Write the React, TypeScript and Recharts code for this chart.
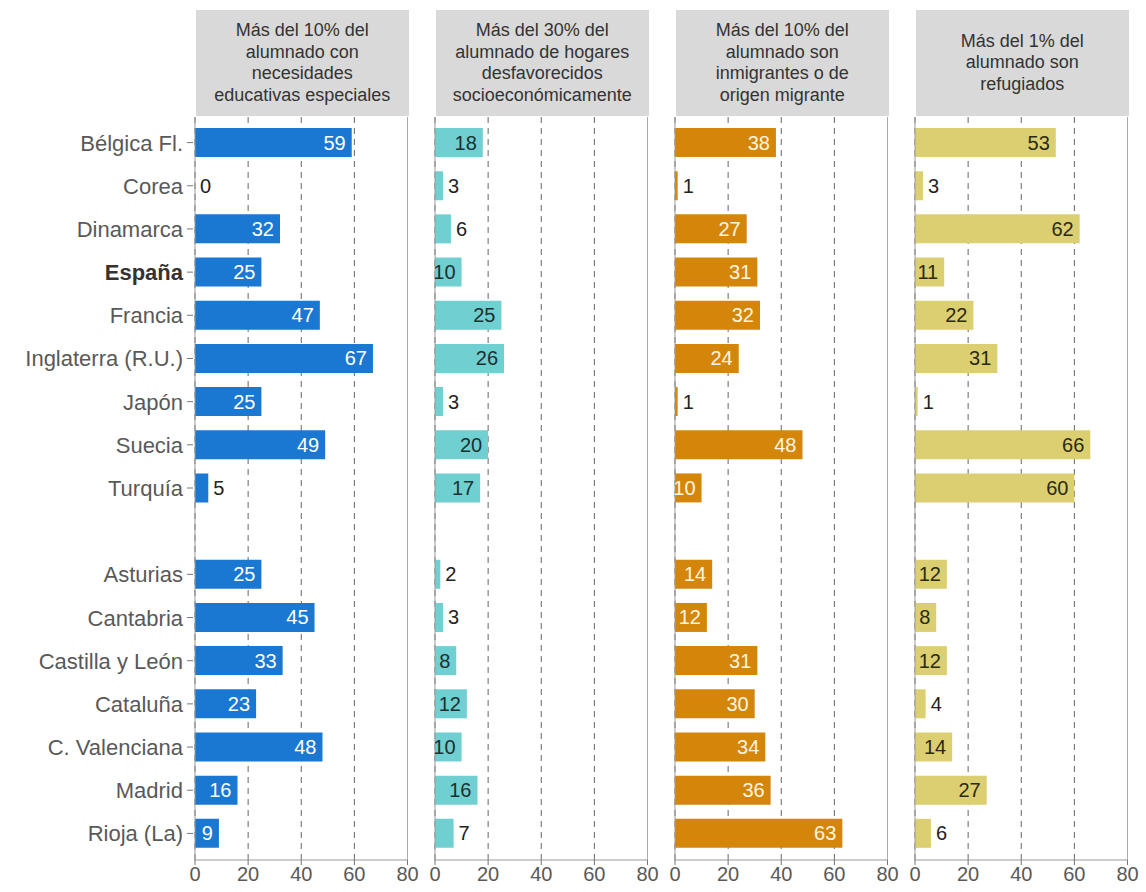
import React from 'react';
import { BarChart, Bar, XAxis, YAxis, CartesianGrid, ReferenceLine, LabelList } from 'recharts';

const categories = [
  'Bélgica Fl.', 'Corea', 'Dinamarca', 'España', 'Francia', 'Inglaterra (R.U.)', 'Japón', 'Suecia', 'Turquía',
  ' ',
  'Asturias', 'Cantabria', 'Castilla y León', 'Cataluña', 'C. Valenciana', 'Madrid', 'Rioja (La)'
];

const necesidades = [59, 0, 32, 25, 47, 67, 25, 49, 5, null, 25, 45, 33, 23, 48, 16, 9];
const desfavorecidos = [18, 3, 6, 10, 25, 26, 3, 20, 17, null, 2, 3, 8, 12, 10, 16, 7];
const inmigrantes = [38, 1, 27, 31, 32, 24, 1, 48, 10, null, 14, 12, 31, 30, 34, 36, 63];
const refugiados = [53, 3, 62, 11, 22, 31, 1, 66, 60, null, 12, 8, 12, 4, 14, 27, 6];

const xTicks = [0, 20, 40, 60, 80];

const panels = [
  { title: ['Más del 10% del', 'alumnado con', 'necesidades', 'educativas especiales'], values: necesidades, color: '#1a78d2', inside: '#ffffff' },
  { title: ['Más del 30% del', 'alumnado de hogares', 'desfavorecidos', 'socioeconómicamente'], values: desfavorecidos, color: '#70cfd0', inside: '#1c3030' },
  { title: ['Más del 10% del', 'alumnado son', 'inmigrantes o de', 'origen migrante'], values: inmigrantes, color: '#d4860a', inside: '#fff6e0' },
  { title: ['Más del 1% del', 'alumnado son', 'refugiados'], values: refugiados, color: '#dccf72', inside: '#2a2a10' }
];

const FONT = 'Arial, "Liberation Sans", sans-serif';
const PLOT_W = 212.5;
const PANEL_STEP = 240;
const FIRST_X = 195;
const TOP = 117;
const HEIGHT = 892;
const BOTTOM_MARGIN = 2;
const X_AXIS_H = 30;

const YTick = (props: any) => {
  const { x, y, payload } = props;
  const label = payload.value as string;
  if (!label.trim()) return null;
  return (
    <g>
      <line x1={x} x2={x + 6} y1={y} y2={y} stroke="#777" />
      <text
        x={x - 4}
        y={y}
        dy={8}
        textAnchor="end"
        fontSize={22}
        fontFamily={FONT}
        fontWeight={label === 'España' ? 'bold' : 'normal'}
        fill={label === 'España' ? '#333' : '#595959'}
      >
        {label}
      </text>
    </g>
  );
};

function makeLabel(insideColor: string) {
  return (props: any) => {
    const { x, y, width, height, value } = props;
    if (value === null || value === undefined) return null;
    const inside = value >= 8;
    return (
      <text
        x={inside ? x + width - 6 : x + width + 5}
        y={y + height / 2}
        dy={7}
        textAnchor={inside ? 'end' : 'start'}
        fontSize={20}
        fontFamily={FONT}
        fill={inside ? insideColor : '#222'}
      >
        {value}
      </text>
    );
  };
}

function Panel({ index }: { index: number }) {
  const p = panels[index];
  const data = categories.map((c, i) => ({ name: c, value: p.values[i] }));
  const first = index === 0;
  const plotLeft = FIRST_X + index * PANEL_STEP;
  const leftPad = first ? 0 : 6;
  const yWidth = first ? FIRST_X : 0;
  const chartLeft = first ? 0 : plotLeft - leftPad;
  const rightPad = 14;
  const width = (first ? FIRST_X : leftPad) + PLOT_W + rightPad;
  return (
    <>
      <div
        style={{
          position: 'absolute',
          left: plotLeft + 1,
          top: 10,
          width: PLOT_W,
          height: 106,
          background: '#d9d9d9',
          display: 'flex',
          flexDirection: 'column',
          justifyContent: 'center',
          alignItems: 'center',
          fontFamily: FONT,
          fontSize: 18,
          lineHeight: '21.5px',
          color: '#333',
          textAlign: 'center'
        }}
      >
        {p.title.map((t) => (
          <div key={t}>{t}</div>
        ))}
      </div>
      <div style={{ position: 'absolute', left: chartLeft, top: 0 }}>
        <BarChart
          width={width}
          height={HEIGHT}
          data={data}
          layout="vertical"
          margin={{ top: TOP, right: rightPad, left: leftPad, bottom: BOTTOM_MARGIN }}
          barCategoryGap={7}
        >
          <CartesianGrid horizontal={false} stroke="#666" strokeDasharray="6 5" />
          <XAxis
            type="number"
            domain={[0, 80]}
            ticks={xTicks}
            height={X_AXIS_H}
            tick={{ fontSize: 20, fontFamily: FONT, fill: '#595959' }}
            axisLine={{ stroke: '#999' }}
            tickLine={{ stroke: '#777' }}
            tickSize={5}
            interval={0}
          />
          <YAxis
            type="category"
            dataKey="name"
            width={yWidth}
            hide={!first}
            axisLine={false}
            tickLine={false}
            tick={<YTick />}
            interval={0}
            padding={{ top: 4, bottom: 5 }}
          />
          <ReferenceLine x={0} stroke="#999" ifOverflow="visible" />
          <ReferenceLine x={80} stroke="#aaa" ifOverflow="visible" />
          <Bar dataKey="value" fill={p.color} barSize={29} minPointSize={0.01} isAnimationActive={false}>
            <LabelList dataKey="value" content={makeLabel(p.inside)} />
          </Bar>
        </BarChart>
      </div>
    </>
  );
}

export default function App() {
  return (
    <div style={{ position: 'absolute', left: 0, top: 0, width: 1146, height: 892, background: '#fff' }}>
      {panels.map((_, i) => (
        <Panel key={i} index={i} />
      ))}
    </div>
  );
}
